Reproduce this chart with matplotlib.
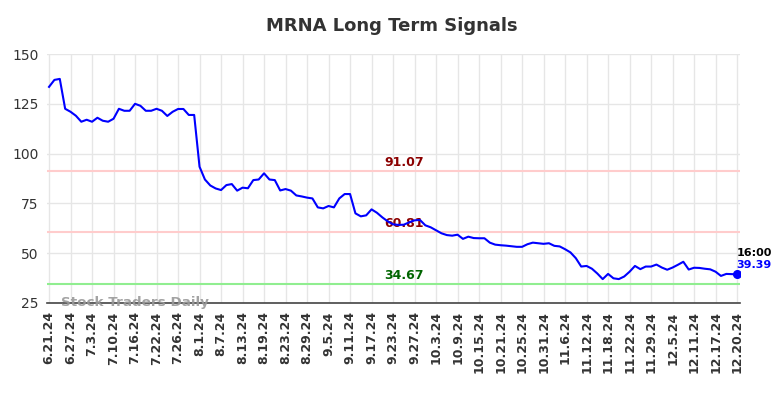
import matplotlib
matplotlib.use("Agg")
import matplotlib.pyplot as plt
import numpy as np

title = "MRNA Long Term Signals"
tick_labels = ["6.21.24", "6.27.24", "7.3.24", "7.10.24", "7.16.24", "7.22.24", "7.26.24",
               "8.1.24", "8.7.24", "8.13.24", "8.19.24", "8.23.24", "8.29.24", "9.5.24",
               "9.11.24", "9.17.24", "9.23.24", "9.27.24", "10.3.24", "10.9.24", "10.15.24",
               "10.21.24", "10.25.24", "10.31.24", "11.6.24", "11.12.24", "11.18.24",
               "11.22.24", "11.29.24", "12.5.24", "12.11.24", "12.17.24", "12.20.24"]

prices = [133.5, 137, 137.5, 122.5, 121, 119, 116, 117, 116, 118, 116.5, 116, 117.5, 122.5,
          121.5, 121.5, 125, 124, 121.5, 121.5, 122.5, 121.5, 118.9, 121, 122.4, 122.4, 119.4,
          119.4, 93.4, 87, 84, 82.5, 81.7, 84.2, 84.7, 81.4, 82.9, 82.6, 86.7, 87, 90.1, 87,
          86.7, 81.5, 82.2, 81.4, 79, 78.5, 77.9, 77.5, 73, 72.5, 73.7, 73, 77.5, 79.7, 79.7,
          70, 68.5, 69, 72, 70.3, 68, 66, 64.5, 64.2, 64.3, 65.5, 66.5, 66.7, 64, 63, 61.5,
          60, 59.1, 58.8, 59.3, 57.2, 58.3, 57.6, 57.5, 57.5, 55.3, 54.3, 54, 53.8, 53.5, 53.2,
          53.2, 54.5, 55.3, 55, 54.7, 55, 53.7, 53.4, 52, 50.4, 47.5, 43.3, 43.6, 42.2, 39.8,
          37, 39.6, 37.4, 37, 38.3, 40.7, 43.6, 42, 43.3, 43.3, 44.3, 42.8, 41.7, 42.8, 44.2,
          45.7, 41.8, 42.7, 42.6, 42.2, 41.9, 40.7, 38.6, 39.6, 39.5, 39.39]

upper_level = 91.07
mid_level = 60.81
lower_level = 34.67
last_time = "16:00"
last_value = 39.39

x = np.arange(len(prices))
tick_pos = np.arange(0, len(prices), 4)

fig = plt.figure(figsize=(7.84, 3.98), dpi=100)
ax = fig.add_axes([0.06, 0.2387, 0.884, 0.6256])

ax.set_xlim(-0.37, len(prices) - 1 + 0.56)
ax.set_ylim(25, 150)
ax.set_yticks([25, 50, 75, 100, 125, 150])
ax.set_xticks(tick_pos)
ax.set_xticklabels(tick_labels, rotation=90, fontsize=9, fontweight="bold", color="#333333")
ax.tick_params(axis="y", labelsize=10, colors="#333333", length=0, pad=6)
ax.tick_params(axis="x", length=0, pad=6)
ax.grid(True, color="#e6e6e6", linewidth=1)
ax.set_axisbelow(True)
for s in ["left", "right", "top"]:
    ax.spines[s].set_visible(False)
ax.spines["bottom"].set_color("#444444")
ax.spines["bottom"].set_linewidth(1.2)

ax.axhline(upper_level, color="#ffcccc", linewidth=1.5, zorder=1)
ax.axhline(mid_level, color="#ffcccc", linewidth=1.5, zorder=1)
ax.axhline(lower_level, color="#90ee90", linewidth=1.5, zorder=1)

xm = (len(prices) - 1) / 2 + 2.1
ax.text(xm, upper_level + 1.0, f"{upper_level:.2f}", color="#8b0000", fontsize=9,
        fontweight="bold", ha="center", va="bottom")
ax.text(xm, mid_level + 1.0, f"{mid_level:.2f}", color="#8b0000", fontsize=9,
        fontweight="bold", ha="center", va="bottom")
ax.text(xm, lower_level + 1.0, f"{lower_level:.2f}", color="#006400", fontsize=9,
        fontweight="bold", ha="center", va="bottom")

ax.plot(x, prices, color="#0000ff", linewidth=1.5, zorder=3)
ax.plot([x[-1]], [last_value], "o", color="#0000ff", markersize=5.5, zorder=4)
ax.text(x[-1] - 0.1, last_value + 10.8, last_time, color="black", fontsize=8,
        fontweight="bold", ha="left", va="center")
ax.text(x[-1] - 0.1, last_value + 4.6, f"{last_value:.2f}", color="#0000ff", fontsize=8,
        fontweight="bold", ha="left", va="center")

ax.text(2.2, 25.3, "Stock Traders Daily", color="#999999", fontsize=9.7,
        fontweight="bold", ha="left", va="center", alpha=0.9)

fig.text(0.5, 0.935, title, ha="center", va="center", fontsize=13, fontweight="bold",
         color="#333333")

fig.savefig("out.png", dpi=100)
